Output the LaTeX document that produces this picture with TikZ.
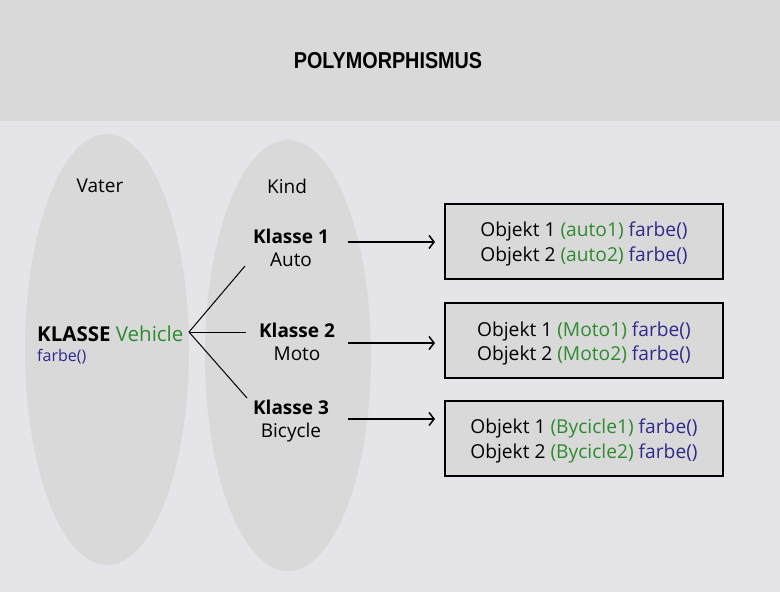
\documentclass[tikz,border=0pt]{standalone}
\usepackage{fontspec}
\setmainfont{Open Sans}
\newfontfamily\titlefont{Liberation Sans}
\usetikzlibrary{arrows.meta}
\definecolor{hdr}{HTML}{D9D9D9}
\definecolor{bg}{HTML}{E5E5E9}
\definecolor{ell}{HTML}{D9D9D9}
\definecolor{grn}{HTML}{2E8B2E}
\definecolor{blu}{HTML}{2E2A8C}
\tikzset{
  lbl/.style={inner sep=0pt, font=\fontsize{19}{22}\selectfont, align=center},
  cls/.style={inner sep=0pt, font=\fontsize{19}{23.5}\selectfont, align=center},
  objbox/.style={draw=black, line width=1.2pt, fill=hdr, minimum width=278pt, minimum height=75pt, inner sep=0pt},
  objtext/.style={inner sep=0pt, align=center, font=\fontsize{19.2}{24.5}\selectfont},
  conn/.style={line width=1pt, black},
  arr/.style={line width=1.5pt, black, -{Straight Barb[length=5pt,width=13pt,line width=1.5pt]}}
}
\begin{document}
\begin{tikzpicture}[x=1pt,y=-1pt]
\useasboundingbox (0,0) rectangle (780,592);
\fill[bg] (0,0) rectangle (780,592);
\fill[hdr] (0,0) rectangle (780,121);
\node[inner sep=0pt] (title) at (388,61) {\scalebox{0.86}[1]{\titlefont\fontsize{23}{26}\selectfont\bfseries POLYMORPHISMUS}};
\fill[ell] (107,349.5) ellipse [x radius=82, y radius=215.5];
\fill[ell] (288,355.5) ellipse [x radius=83, y radius=215.5];
\node[lbl] (vater) at (100,186) {Vater};
\node[lbl] (kind) at (287,186) {Kind};
\node[cls] (k1) at (291,248) {\textbf{Klasse 1}\\Auto};
\node[cls] (k2) at (297,342) {\textbf{Klasse 2}\\Moto};
\node[cls] (k3) at (291,421) {\textbf{Klasse 3}\\Bicycle};
\node[inner sep=0pt, anchor=base west, font=\fontsize{20.5}{22}\selectfont] (veh) at (37,341.5) {\textbf{KLASSE} \textcolor{grn}{Vehicle}};
\node[inner sep=0pt, anchor=base west, font=\fontsize{16}{18}\selectfont, text=blu] (fb) at (37,361) {farbe()};
\coordinate (hub) at (189,332);
\coordinate (e1) at (245,266);
\coordinate (e2) at (246,332);
\coordinate (e3) at (247,398);
\draw[conn] (hub) -- (e1);
\draw[conn] (hub) -- (e2);
\draw[conn] (hub) -- (e3);
\node[objbox] (b1) at (584,241.5) {};
\node[objbox] (b2) at (584,340.5) {};
\node[objbox] (b3) at (584,438.5) {};
\node[objtext] (t1txt) at ([yshift=-2.5pt]b1.center) {Objekt 1 \textcolor{grn}{(auto1)} \textcolor{blu}{farbe()}\\Objekt 2 \textcolor{grn}{(auto2)} \textcolor{blu}{farbe()}};
\node[objtext] (t2txt) at ([yshift=-3pt]b2.center) {Objekt 1 \textcolor{grn}{(Moto1)} \textcolor{blu}{farbe()}\\Objekt 2 \textcolor{grn}{(Moto2)} \textcolor{blu}{farbe()}};
\node[objtext] (t3txt) at ([yshift=-2.5pt]b3.center) {Objekt 1 \textcolor{grn}{(Bycicle1)} \textcolor{blu}{farbe()}\\Objekt 2 \textcolor{grn}{(Bycicle2)} \textcolor{blu}{farbe()}};
\coordinate (a1) at (348,242);
\coordinate (a2) at (348,343);
\coordinate (a3) at (348,419);
\coordinate (t1) at (435,242);
\coordinate (t2) at (435,343);
\coordinate (t3) at (435,419);
\draw[arr] (a1) -- (t1);
\draw[arr] (a2) -- (t2);
\draw[arr] (a3) -- (t3);
\end{tikzpicture}
\end{document}
